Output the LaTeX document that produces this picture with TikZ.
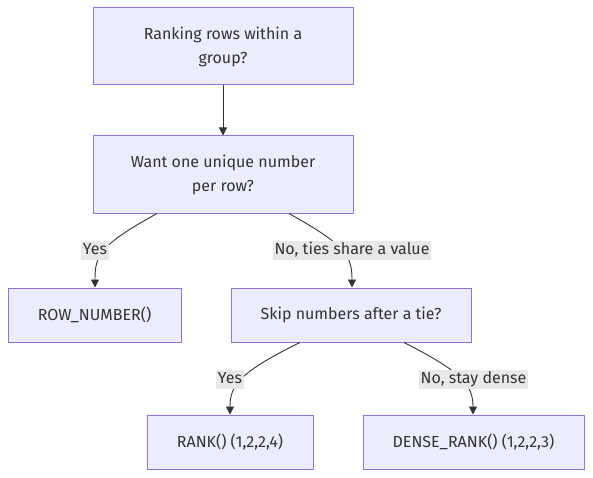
\documentclass[tikz,border=0pt]{standalone}
\usepackage{fontspec}
\setmainfont{Fira Sans}
\usetikzlibrary{arrows.meta}
\definecolor{boxfill}{HTML}{ECECFF}
\definecolor{boxline}{HTML}{9370DB}
\definecolor{ink}{HTML}{333333}
\definecolor{lblbg}{HTML}{E8E8E8}
\begin{document}
\begin{tikzpicture}[x=1pt,y=-1pt,
  every node/.style={font=\fontsize{16}{24}\selectfont, text=ink},
  decision/.style={draw=boxline, fill=boxfill, line width=1pt, align=center, inner sep=0pt},
  edgelbl/.style={fill=lblbg, inner sep=1.5pt, text height=11.5pt, text depth=4pt},
  conn/.style={draw=ink, line width=0.9pt, -{Triangle[length=8pt,width=8pt]}}]
\useasboundingbox (0,0) rectangle (593,478);
\node[decision, minimum width=260pt, minimum height=77pt] (a) at (223,46.5) {Ranking rows within a\\group?};
\node[decision, minimum width=260pt, minimum height=77pt] (b) at (223,174.5) {Want one unique number\\per row?};
\node[decision, minimum width=173pt, minimum height=54pt] (c) at (94.5,315) {ROW\_NUMBER()};
\node[decision, minimum width=240pt, minimum height=54pt] (d) at (351,315) {Skip numbers after a tie?};
\node[decision, minimum width=166pt, minimum height=54pt] (e) at (230,442) {RANK() (1,2,2,4)};
\node[decision, minimum width=221pt, minimum height=54pt] (f) at (473.5,442) {DENSE\_RANK() (1,2,2,3)};

\draw[conn] (a.south) -- (b.north);
\draw[conn] ([xshift=-66pt]b.south) .. controls (100,245) and ([xshift=0.5pt]c.north |- 0,255) .. ([xshift=0.5pt]c.north);
\draw[conn] ([xshift=66pt]b.south) .. controls (345,245) and ([xshift=1pt]d.north |- 0,255) .. ([xshift=1pt]d.north);
\draw[conn] ([xshift=-51pt]d.south) .. controls (240,372) and (e.north |- 0,385) .. (e.north);
\draw[conn] ([xshift=53pt]d.south) .. controls (462,372) and ([xshift=-0.5pt]f.north |- 0,385) .. ([xshift=-0.5pt]f.north);

\node[edgelbl] (l1) at (95,250.5) {Yes};
\node[edgelbl] (l2) at (352,250.5) {No, ties share a value};
\node[edgelbl] (l3) at (230,379.5) {Yes};
\node[edgelbl] (l4) at (473.5,379.5) {No, stay dense};
\end{tikzpicture}
\end{document}
